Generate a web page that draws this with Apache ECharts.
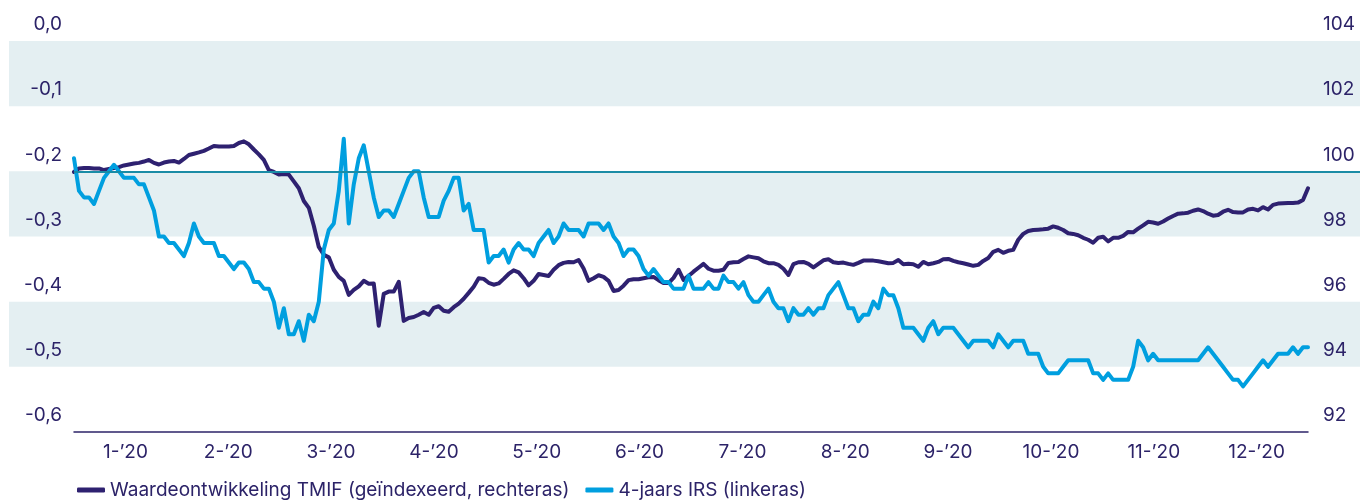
<!DOCTYPE html>
<html>
<head>
<meta charset="utf-8">
<title>TMIF vs 4-jaars IRS 2020</title>
<script src="https://cdn.jsdelivr.net/npm/echarts@6/dist/echarts.min.js"></script>
<style>
	html, body { margin: 0; padding: 0; background: #fff; }
	#chart { width: 1360px; height: 502px; }
</style>
</head>
<body>
<div id="chart"></div>
<script>
// maanden op de x-as
var months = ['1-\u201920', '2-\u201920', '3-\u201920', '4-\u201920', '5-\u201920', '6-\u201920',
	'7-\u201920', '8-\u201920', '9-\u201920', '10-\u201920', '11-\u201920', '12-\u201920'];

// Waardeontwikkeling TMIF (geindexeerd), rechteras - handelsdagen 2020
var tmif = [
	99.98, 100.09, 100.10, 100.10, 100.09, 100.09, 100.04, 100.07, 100.10, 100.13,
	100.18, 100.21, 100.24, 100.26, 100.30, 100.35, 100.26, 100.21, 100.27, 100.30,
	100.32, 100.27, 100.38, 100.50, 100.54, 100.58, 100.63, 100.70, 100.78, 100.76,
	100.76, 100.76, 100.78, 100.87, 100.92, 100.83, 100.67, 100.52, 100.35, 100.04,
	99.98, 99.90, 99.92, 99.90, 99.69, 99.48, 99.09, 98.88, 98.33, 97.68,
	97.44, 97.36, 96.98, 96.76, 96.64, 96.21, 96.36, 96.47, 96.64, 96.55,
	96.56, 95.26, 96.24, 96.31, 96.31, 96.61, 95.41, 95.50, 95.53, 95.60,
	95.68, 95.60, 95.81, 95.86, 95.72, 95.69, 95.83, 95.94, 96.09, 96.27,
	96.46, 96.72, 96.70, 96.58, 96.52, 96.56, 96.70, 96.85, 96.96, 96.90,
	96.72, 96.50, 96.64, 96.85, 96.82, 96.79, 96.98, 97.12, 97.19, 97.22,
	97.21, 97.28, 97.02, 96.64, 96.72, 96.81, 96.76, 96.64, 96.33, 96.36,
	96.49, 96.66, 96.69, 96.69, 96.72, 96.75, 96.76, 96.66, 96.57, 96.57,
	96.73, 96.98, 96.67, 96.79, 96.92, 97.04, 97.16, 97.01, 96.95, 96.95,
	96.98, 97.19, 97.21, 97.22, 97.31, 97.39, 97.36, 97.33, 97.24, 97.18,
	97.18, 97.13, 97.01, 96.82, 97.15, 97.21, 97.22, 97.16, 97.05, 97.16,
	97.27, 97.30, 97.21, 97.19, 97.20, 97.16, 97.13, 97.19, 97.26, 97.26,
	97.26, 97.24, 97.21, 97.18, 97.19, 97.28, 97.15, 97.16, 97.15, 97.07,
	97.22, 97.15, 97.18, 97.22, 97.30, 97.31, 97.25, 97.21, 97.18, 97.14,
	97.10, 97.13, 97.25, 97.34, 97.53, 97.59, 97.50, 97.56, 97.59, 97.90,
	98.08, 98.17, 98.20, 98.21, 98.22, 98.24, 98.31, 98.27, 98.20, 98.10,
	98.08, 98.04, 97.96, 97.90, 97.81, 97.96, 97.99, 97.85, 97.96, 97.96,
	98.02, 98.14, 98.13, 98.24, 98.34, 98.45, 98.43, 98.39, 98.46, 98.55,
	98.63, 98.70, 98.71, 98.73, 98.79, 98.83, 98.78, 98.70, 98.64, 98.66,
	98.76, 98.82, 98.75, 98.74, 98.74, 98.83, 98.85, 98.80, 98.90, 98.83,
	98.97, 99.01, 99.02, 99.03, 99.03, 99.04, 99.12, 99.48
];

// 4-jaars IRS (%), linkeras
var irs = [
	-0.18, -0.23, -0.24, -0.24, -0.25, -0.23, -0.21, -0.20, -0.19, -0.20,
	-0.21, -0.21, -0.21, -0.22, -0.22, -0.24, -0.26, -0.30, -0.30, -0.31,
	-0.31, -0.32, -0.33, -0.31, -0.28, -0.30, -0.31, -0.31, -0.31, -0.33,
	-0.33, -0.34, -0.35, -0.34, -0.34, -0.35, -0.37, -0.37, -0.38, -0.38,
	-0.40, -0.44, -0.41, -0.45, -0.45, -0.43, -0.46, -0.42, -0.43, -0.40,
	-0.32, -0.29, -0.28, -0.23, -0.15, -0.28, -0.22, -0.18, -0.16, -0.20,
	-0.24, -0.27, -0.26, -0.26, -0.27, -0.25, -0.23, -0.21, -0.20, -0.20,
	-0.24, -0.27, -0.27, -0.27, -0.245, -0.23, -0.21, -0.21, -0.26, -0.25,
	-0.29, -0.29, -0.29, -0.34, -0.33, -0.33, -0.32, -0.34, -0.32, -0.31,
	-0.32, -0.32, -0.33, -0.31, -0.30, -0.29, -0.31, -0.30, -0.28, -0.29,
	-0.29, -0.29, -0.30, -0.28, -0.28, -0.28, -0.29, -0.28, -0.30, -0.31,
	-0.33, -0.32, -0.32, -0.33, -0.35, -0.36, -0.35, -0.36, -0.37, -0.37,
	-0.38, -0.38, -0.38, -0.36, -0.38, -0.38, -0.38, -0.37, -0.38, -0.38,
	-0.36, -0.37, -0.37, -0.38, -0.37, -0.39, -0.40, -0.40, -0.39, -0.38,
	-0.40, -0.41, -0.41, -0.43, -0.41, -0.42, -0.42, -0.41, -0.42, -0.41,
	-0.41, -0.39, -0.38, -0.37, -0.39, -0.41, -0.41, -0.43, -0.42, -0.42,
	-0.40, -0.41, -0.38, -0.39, -0.39, -0.41, -0.44, -0.44, -0.44, -0.45,
	-0.46, -0.44, -0.43, -0.45, -0.44, -0.44, -0.44, -0.45, -0.46, -0.47,
	-0.46, -0.46, -0.46, -0.46, -0.47, -0.45, -0.46, -0.47, -0.46, -0.46,
	-0.46, -0.48, -0.48, -0.48, -0.50, -0.51, -0.51, -0.51, -0.50, -0.49,
	-0.49, -0.49, -0.49, -0.49, -0.51, -0.51, -0.52, -0.51, -0.52, -0.52,
	-0.52, -0.52, -0.50, -0.46, -0.47, -0.49, -0.48, -0.49, -0.49, -0.49,
	-0.49, -0.49, -0.49, -0.49, -0.49, -0.49, -0.48, -0.47, -0.48, -0.49,
	-0.50, -0.51, -0.52, -0.52, -0.53, -0.52, -0.51, -0.50, -0.49, -0.50,
	-0.49, -0.48, -0.48, -0.48, -0.47, -0.48, -0.47, -0.47
];

// as-instellingen
var leftTicks = { min: -0.6, max: 0, interval: 0.1 };
var rightTicks = { min: 92, max: 104, interval: 2 };
var referenceLevel = -0.2;

// handelsdagen (index) voor de verborgen data-as
var days = [];
for (var i = 0; i < tmif.length; i++) {
	days.push(i);
}

var navy = '#2c2368';
var fontFam = 'Inter, Roboto, "Noto Sans", sans-serif';

var option = {
	animation: false,
	textStyle: { fontFamily: fontFam },
	legend: {
		left: 72,
		top: 478,
		padding: [2, 5, 2, 5],
		itemWidth: 28,
		itemHeight: 5,
		itemGap: 16,
		icon: 'roundRect',
		textStyle: { color: navy, fontSize: 19, lineHeight: 20, fontFamily: fontFam },
		data: ['Waardeontwikkeling TMIF (geïndexeerd, rechteras)', '4-jaars IRS (linkeras)']
	},
	grid: [
		{ left: 74, right: 52, top: 41, bottom: 70 },   // grafiek
		{ left: 9, right: 0, top: 41, bottom: 70 },     // banden
		{ left: 74, right: 0, top: 41, bottom: 70 }     // referentielijn
	],
	xAxis: [
		{ gridIndex: 1, type: 'value', min: 0, max: 1, show: false },
		{
			gridIndex: 0,
			type: 'category',
			data: months,
			boundaryGap: true,
			axisTick: { show: false },
			axisLine: { onZero: false, lineStyle: { color: navy, width: 1.5 } },
			axisLabel: { color: navy, fontSize: 19, margin: 11, fontFamily: fontFam },
			splitLine: { show: false },
			z: 3
		},
		{ gridIndex: 0, type: 'category', data: days, boundaryGap: false, show: false },
		{ gridIndex: 2, type: 'value', min: 0, max: 1, show: false }
	],
	yAxis: [
		{
			gridIndex: 1,
			type: 'value',
			min: leftTicks.min, max: leftTicks.max, interval: leftTicks.interval,
			axisLine: { show: false },
			axisTick: { show: false },
			axisLabel: { show: false },
			splitLine: { show: false },
			splitArea: { show: true, areaStyle: { color: ['rgba(255,255,255,0)', '#e4eff2'] } },
			z: 0
		},
		{
			gridIndex: 0,
			type: 'value',
			position: 'left',
			min: leftTicks.min, max: leftTicks.max, interval: leftTicks.interval,
			axisLine: { show: false },
			axisTick: { show: false },
			splitLine: { show: false },
			axisLabel: {
				color: navy, fontSize: 19, margin: 12, fontFamily: fontFam,
				verticalAlign: 'bottom', lineHeight: 19, padding: [0, 0, 7, 0],
				formatter: function (v) {
					return v.toFixed(1).replace('.', ',');
				}
			},
			z: 3
		},
		{
			gridIndex: 0,
			type: 'value',
			position: 'right',
			min: rightTicks.min, max: rightTicks.max, interval: rightTicks.interval,
			axisLine: { show: false },
			axisTick: { show: false },
			splitLine: { show: false },
			axisLabel: {
				color: navy, fontSize: 19, margin: 15, fontFamily: fontFam,
				verticalAlign: 'bottom', lineHeight: 19, padding: [0, 0, 7, 0]
			},
			z: 3
		},
		{
			gridIndex: 2, type: 'value',
			min: leftTicks.min, max: leftTicks.max, show: false
		}
	],
	series: [
		{
			// referentielijn (100 / -0,2)
			type: 'line',
			xAxisIndex: 3,
			yAxisIndex: 3,
			data: [],
			z: 1,
			markLine: {
				silent: true,
				symbol: 'none',
				label: { show: false },
				lineStyle: { color: '#1a8ca6', width: 2, type: 'solid' },
				data: [{ yAxis: referenceLevel }]
			}
		},
		{
			name: 'Waardeontwikkeling TMIF (geïndexeerd, rechteras)',
			type: 'line',
			xAxisIndex: 2,
			yAxisIndex: 2,
			showSymbol: false,
			symbol: 'none',
			itemStyle: { color: '#2e2170' },
			lineStyle: { color: '#2e2170', width: 4, join: 'round', cap: 'round' },
			data: tmif,
			z: 3
		},
		{
			name: '4-jaars IRS (linkeras)',
			type: 'line',
			xAxisIndex: 2,
			yAxisIndex: 1,
			showSymbol: false,
			symbol: 'none',
			itemStyle: { color: '#009fdf' },
			lineStyle: { color: '#009fdf', width: 4, join: 'round', cap: 'round' },
			data: irs,
			z: 4
		}
	]
};

var myChart = echarts.init(document.getElementById('chart'));
myChart.setOption(option);
</script>
</body>
</html>
